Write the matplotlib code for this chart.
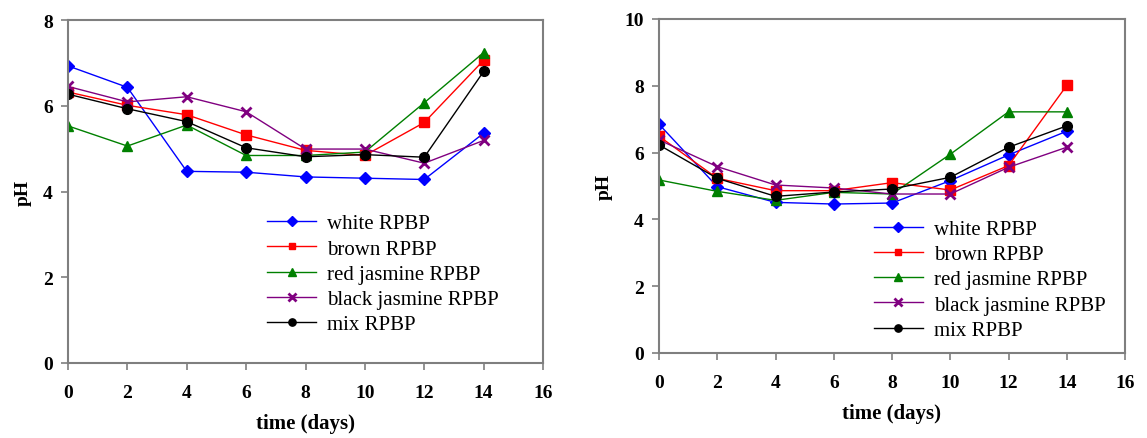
import matplotlib
matplotlib.use("Agg")

import matplotlib.pyplot as plt

days = [0, 2, 4, 6, 8, 10, 12, 14]
labels = ["white RPBP", "brown RPBP", "red jasmine RPBP", "black jasmine RPBP", "mix RPBP"]

# left panel
left_white = [6.93, 6.43, 4.47, 4.45, 4.34, 4.31, 4.28, 5.36]
left_brown = [6.32, 6.01, 5.79, 5.32, 4.96, 4.84, 5.61, 7.06]
left_red_jasmine = [5.53, 5.06, 5.55, 4.84, 4.84, 4.92, 6.07, 7.24]
left_black_jasmine = [6.45, 6.09, 6.21, 5.86, 4.99, 4.99, 4.66, 5.19]
left_mix = [6.27, 5.93, 5.63, 5.02, 4.81, 4.86, 4.80, 6.80]

# right panel
right_white = [6.85, 4.98, 4.51, 4.46, 4.49, 5.16, 5.93, 6.64]
right_brown = [6.49, 5.23, 4.86, 4.86, 5.10, 4.88, 5.61, 8.01]
right_red_jasmine = [5.18, 4.84, 4.57, 4.81, 4.76, 5.95, 7.22, 7.22]
right_black_jasmine = [6.38, 5.58, 5.03, 4.94, 4.76, 4.76, 5.56, 6.16]
right_mix = [6.23, 5.23, 4.69, 4.82, 4.91, 5.26, 6.16, 6.80]

plt.rcParams["font.family"] = ["Liberation Serif", "DejaVu Serif"]

styles = [
    dict(color="#0000FF", marker="D", ms=6.5),
    dict(color="#FF0000", marker="s", ms=6.5),
    dict(color="#008000", marker="^", ms=7.5),
    dict(color="#800080", marker="x", ms=7, mew=2),
    dict(color="#000000", marker="o", ms=7),
]

fig = plt.figure(figsize=(11.47, 4.39), dpi=100)
ax1 = fig.add_axes([68 / 1147, 75 / 439, 475 / 1147, 343 / 439])
ax2 = fig.add_axes([659 / 1147, 85 / 439, 466 / 1147, 334 / 439])

panels = [
    (ax1, [left_white, left_brown, left_red_jasmine, left_black_jasmine, left_mix], 8, (0.419, 0.435)),
    (ax2, [right_white, right_brown, right_red_jasmine, right_black_jasmine, right_mix], 10, (0.461, 0.400)),
]

for ax, series, ymax, anchor in panels:
    for vals, lab, st in zip(series, labels, styles):
        ax.plot(days, vals, lw=1.0, label=lab, **st)
    ax.set_xlim(0, 16)
    ax.set_ylim(0, ymax)
    ax.set_xticks(range(0, 17, 2))
    ax.set_yticks(range(0, ymax + 1, 2))
    for s in ax.spines.values():
        s.set_color("#7f7f7f")
        s.set_linewidth(1.5)
    ax.tick_params(direction="out", length=5, width=1.2, color="#7f7f7f", labelsize=14)
    ax.tick_params(axis="x", pad=10)
    ax.tick_params(axis="y", pad=6)
    for t in ax.get_xticklabels() + ax.get_yticklabels():
        t.set_fontweight("bold")
    ax.set_xlabel("time (days)", fontsize=15, fontweight="bold", labelpad=9)
    ax.set_ylabel("pH", fontsize=14, fontweight="bold", labelpad=8)
    ax.legend(loc="upper left", bbox_to_anchor=anchor, frameon=False,
              fontsize=15, handlelength=2.35, handletextpad=0.55,
              labelspacing=0.27, borderpad=0, borderaxespad=0,
              markerscale=0.75)

fig.savefig("out.png", dpi=100)
